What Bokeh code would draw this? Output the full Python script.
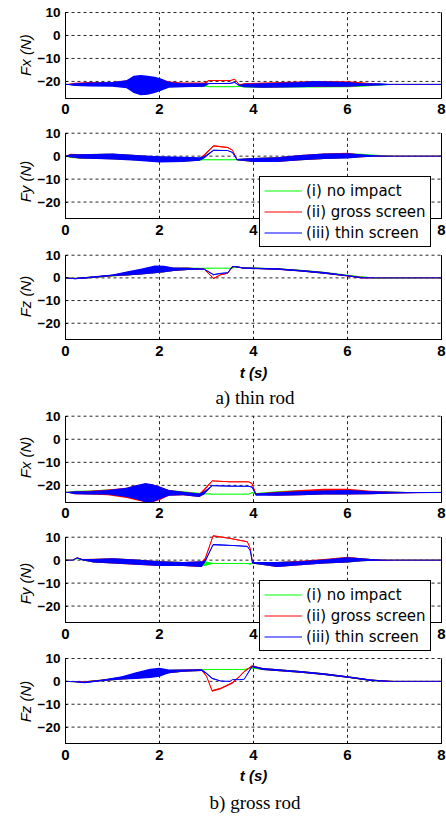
import math
from bokeh.plotting import figure
from bokeh.models import Range1d, FixedTicker, Legend, LegendItem
from bokeh.core.properties import value
from bokeh.layouts import column
from bokeh.embed import file_html
from bokeh.resources import INLINE

TIME_TICKS = [0, 2, 4, 6, 8]
TIME_TICK_LABELS = ["0", "2", "4", "6", "8"]
FORCE_TICKS = [-20, -10, 0, 10]
T_MIN, T_MAX = 0, 8
Y_MIN, Y_MAX = -27.3, 10
SERIES_NAMES = ["(i) no impact", "(ii) gross screen", "(iii) thin screen"]
SERIES_COLORS = ["#00ff00", "#ff0000", "#0000ff"]
CAPTIONS = ["a) thin rod", "b) gross rod"]
Y_LABELS = ["Fx (N)", "Fy (N)", "Fz (N)"]
X_LABEL = "t (s)"

# ---------- a) thin rod : (low, high) envelope of each signal ----------
THIN_FX_T = [0, 0.2, 0.5, 1.0, 1.3, 1.45, 1.6, 1.75, 1.9, 2.05, 2.2, 2.5, 2.95, 3.05,
             3.5, 3.6, 3.7, 3.8, 4.2, 5.0, 5.3, 6.0, 6.3, 6.7, 7.0, 8.0]
THIN_FX_GREEN = [(-21.3, -21.3), (-21.8, -20.8), (-22.0, -20.6), (-22.0, -20.5), (-22.5, -20.0),
                 (-23.0, -19.8), (-23.5, -19.5), (-23.5, -19.5), (-23.0, -19.8), (-22.8, -20.2),
                 (-22.3, -20.5), (-22.3, -20.8), (-22.3, -21.0), (-22.4, -22.2), (-22.4, -22.2),
                 (-22.4, -22.2), (-22.3, -21.8), (-22.6, -21.0), (-22.8, -21.0), (-22.6, -20.5),
                 (-22.6, -20.4), (-22.5, -20.6), (-22.3, -20.8), (-21.8, -21.0), (-21.3, -21.3),
                 (-21.3, -21.3)]
THIN_FX_RED = [(-21.3, -21.3), (-21.8, -20.6), (-22.0, -20.3), (-22.0, -20.2), (-22.5, -19.5),
               (-24.5, -18.0), (-25.5, -17.5), (-25.0, -17.8), (-24.5, -18.3), (-23.5, -19.0),
               (-22.3, -20.0), (-22.3, -20.5), (-22.0, -20.5), (-19.8, -19.4), (-19.8, -19.5),
               (-19.2, -18.9), (-21.8, -21.2), (-22.4, -20.8), (-22.6, -20.5), (-22.4, -20.0),
               (-22.4, -19.8), (-22.3, -19.9), (-22.0, -20.4), (-21.5, -21.1), (-21.3, -21.3),
               (-21.3, -21.3)]
THIN_FX_BLUE = [(-21.3, -21.3), (-22.0, -20.8), (-22.2, -20.5), (-22.3, -20.3), (-23.0, -19.5),
                (-25.0, -17.5), (-26.0, -17.2), (-25.8, -17.5), (-25.0, -18.0), (-24.0, -18.8),
                (-22.8, -20.2), (-22.5, -20.8), (-22.3, -20.8), (-21.1, -20.8), (-21.0, -20.7),
                (-20.6, -20.3), (-22.0, -21.6), (-22.5, -21.0), (-22.8, -20.8), (-22.5, -20.3),
                (-22.3, -19.8), (-22.3, -20.3), (-22.0, -20.8), (-21.8, -20.8), (-21.3, -21.3),
                (-21.3, -21.3)]

THIN_FY_T = [0, 0.1, 0.3, 1.0, 1.5, 2.0, 2.5, 2.85, 2.95, 3.15, 3.45, 3.55, 3.65, 4.0, 4.5,
             5.0, 5.5, 6.0, 6.3, 6.6, 7.0, 8.0]
THIN_FY_GREEN = [(0, 0), (-0.8, 0.8), (-1.0, 0.8), (-1.3, 1.0), (-1.8, 0.5), (-2.3, -0.3),
                 (-2.3, -0.5), (-2.0, -0.8), (-1.7, -1.5), (-1.7, -1.5), (-1.7, -1.5),
                 (-1.7, -1.5), (-1.8, -1.2), (-2.3, -0.8), (-2.3, -0.5), (-1.8, 0.3),
                 (-1.2, 1.0), (-0.8, 1.3), (-0.5, 1.0), (-0.3, 0.6), (0, 0), (0, 0)]
THIN_FY_RED = [(0, 0), (-0.5, 1.0), (-1.0, 0.8), (-1.3, 1.0), (-1.8, 0.5), (-2.5, -0.3),
               (-2.3, -0.5), (-2.0, -0.8), (0.0, 0.8), (4.2, 4.8), (3.6, 4.0), (2.5, 2.8),
               (-1.8, -1.2), (-2.5, -0.8), (-2.5, -0.5), (-1.8, 0.5), (-1.2, 1.2), (-0.8, 1.5),
               (-0.5, 0.6), (-0.1, 0.2), (0, 0), (0, 0)]
THIN_FY_BLUE = [(0, 0), (-0.5, 0.8), (-1.0, 0.8), (-1.5, 1.2), (-2.0, 0.5), (-2.8, 0.0),
                (-2.5, -0.3), (-2.0, -0.5), (-1.0, 0.0), (2.3, 2.8), (2.3, 2.6), (1.5, 1.8),
                (-1.8, -1.2), (-2.5, -0.8), (-2.5, -0.5), (-1.8, 0.5), (-1.2, 1.2), (-1.0, 1.3),
                (-0.5, 0.8), (-0.2, 0.3), (0, 0), (0, 0)]

THIN_FZ_T = [0, 0.2, 0.5, 1.0, 1.3, 1.6, 1.9, 2.1, 2.3, 2.6, 2.95, 3.15, 3.3, 3.45, 3.55,
             3.6, 3.8, 4.5, 5.0, 5.5, 6.0, 6.3, 6.6, 8.0]
THIN_FZ_GREEN = [(0, 0), (-0.5, 0), (-0.2, 0.5), (0.6, 1.3), (1.0, 2.5), (1.5, 3.5), (2.0, 4.5),
                 (2.5, 4.8), (3.0, 4.5), (3.5, 4.6), (4.1, 4.4), (4.2, 4.4), (4.2, 4.4),
                 (4.2, 4.4), (4.2, 4.4), (4.6, 5.0), (4.1, 4.7), (3.7, 4.3), (2.9, 3.6),
                 (1.9, 2.7), (0.8, 1.4), (0.2, 0.6), (-0.3, 0.2), (0, 0)]
THIN_FZ_RED = [(0, 0), (-0.6, 0), (-0.2, 0.5), (0.7, 1.4), (1.0, 2.6), (1.5, 3.8), (2.0, 5.0),
               (2.5, 5.0), (3.0, 4.5), (3.5, 4.6), (3.7, 4.0), (-0.5, 0.0), (1.2, 1.6),
               (1.8, 2.2), (4.5, 5.2), (4.8, 5.2), (4.0, 4.6), (3.6, 4.2), (2.8, 3.5),
               (1.8, 2.6), (0.6, 1.2), (-0.3, 0.5), (0, 0), (0, 0)]
THIN_FZ_BLUE = [(0, 0), (-0.6, 0), (-0.2, 0.5), (0.8, 1.5), (1.0, 2.8), (1.5, 4.0), (2.0, 5.5),
                (2.5, 5.3), (3.0, 4.6), (3.5, 4.5), (3.7, 4.0), (1.2, 1.6), (1.8, 2.2),
                (2.1, 2.4), (4.7, 5.2), (4.8, 5.2), (4.0, 4.6), (3.6, 4.2), (2.8, 3.5),
                (1.8, 2.6), (0.7, 1.2), (-0.2, 0.3), (0, 0), (0, 0)]

# ---------- b) gross rod ----------
GROSS_FX_T = [0, 0.2, 0.5, 0.9, 1.3, 1.5, 1.7, 1.85, 2.0, 2.2, 2.5, 2.85, 2.95, 3.12, 3.5,
              3.9, 3.97, 4.05, 4.5, 5.0, 5.5, 6.0, 6.5, 7.0, 7.5, 8.0]
GROSS_FX_GREEN = [(-23, -23), (-23.6, -22.3), (-23.8, -22.2), (-23.8, -21.8), (-24.5, -21.5),
                  (-25, -21), (-25.5, -20.5), (-25.5, -20.5), (-25, -21), (-24, -22),
                  (-24, -22.5), (-24.5, -23.2), (-23.8, -23.4), (-23.9, -23.7), (-23.9, -23.7),
                  (-23.9, -23.7), (-23.3, -23.0), (-24.0, -23.3), (-24.3, -22.5), (-24.2, -22.0),
                  (-23.8, -22.0), (-23.8, -22.2), (-23.5, -22.5), (-23.3, -22.8), (-23.2, -23.0),
                  (-23.1, -23.0)]
GROSS_FX_RED = [(-23, -23), (-23.8, -22.5), (-24, -22.3), (-24.3, -21.8), (-25.5, -21),
                (-26.5, -20), (-27.3, -19.5), (-27.3, -19.5), (-26.5, -20.5), (-24.5, -22),
                (-24.3, -22.8), (-25, -23.5), (-22.5, -21.5), (-18.2, -17.9), (-18.6, -18.3),
                (-18.6, -18.3), (-19.5, -19.0), (-24.0, -23.5), (-24.5, -22.8), (-24.3, -22.0),
                (-24, -21.5), (-24, -21.5), (-23.8, -22.3), (-23.5, -22.8), (-23.3, -23),
                (-23.1, -23.0)]
GROSS_FX_BLUE = [(-23, -23), (-23.8, -22.5), (-24, -22.5), (-24, -22), (-25, -21), (-26, -20),
                 (-27.3, -19), (-27.3, -19.5), (-26, -20.5), (-24.5, -22), (-24.3, -22.8),
                 (-25, -23.5), (-24, -22.5), (-20.3, -20.0), (-20.5, -20.2), (-20.5, -20.3),
                 (-21, -20.5), (-24.5, -23.5), (-24.5, -23), (-24.3, -22.5), (-24, -22.2),
                 (-24, -22), (-23.8, -22.5), (-23.5, -22.8), (-23.3, -23), (-23.2, -23.0)]

GROSS_FY_T = [0, 0.15, 0.25, 0.35, 0.6, 1.0, 1.5, 2.0, 2.5, 2.9, 2.97, 3.14, 3.5, 3.87, 3.93,
              3.98, 4.5, 5.0, 5.5, 6.0, 6.3, 6.7, 7.0, 8.0]
GROSS_FY_GREEN = [(0, 0), (0, 0), (0.5, 1.0), (0, 0.5), (-1, 0.5), (-1.3, 0.8), (-1.8, 0.3),
                  (-2.3, -0.5), (-2.3, -0.8), (-2.5, -0.8), (-2.5, -0.5), (-1.6, -1.2),
                  (-1.6, -1.3), (-1.6, -1.3), (-2.0, -1.2), (-1.6, -1.0), (-2.8, -0.8),
                  (-2.0, -0.5), (-1.5, 0.3), (-1.0, 1.3), (-0.5, 0.8), (-0.2, 0.2), (0, 0), (0, 0)]
GROSS_FY_RED = [(0, 0), (0, 0), (0.8, 1.2), (0, 0.5), (-1, 0.6), (-1.5, 0.8), (-2, 0.3),
                (-2.5, -0.5), (-2.5, -0.8), (-3, -0.5), (0, 1), (10.3, 10.9), (9.3, 9.6),
                (7.8, 8.2), (5.0, 5.4), (-1.5, -0.8), (-3, -0.8), (-2.2, -0.3), (-1.5, 0.5),
                (-1, 1.5), (-0.5, 0.8), (-0.2, 0.2), (0, 0), (0, 0)]
GROSS_FY_BLUE = [(0, 0), (0, 0), (0.8, 1.2), (0, 0.5), (-1, 0.5), (-1.5, 0.8), (-2, 0.3),
                 (-2.5, -0.5), (-2.5, -0.8), (-3, -0.5), (-1, 0), (6.5, 7.0), (6.3, 6.6),
                 (5.8, 6.2), (4.0, 4.3), (-1.5, -0.8), (-3, -0.8), (-2.2, -0.5), (-1.5, 0.3),
                 (-1, 1.3), (-0.5, 0.8), (-0.2, 0.2), (0, 0), (0, 0)]

GROSS_FZ_T = [0, 0.2, 0.4, 0.8, 1.2, 1.5, 1.8, 2.0, 2.2, 2.5, 2.9, 3.0, 3.12, 3.3, 3.5, 3.55,
              3.7, 3.8, 3.97, 4.2, 5.0, 5.5, 6.0, 6.5, 6.9, 7.0, 8.0]
GROSS_FZ_GREEN = [(0, 0), (-0.3, 0), (-0.6, 0), (0.2, 0.8), (0.8, 2.0), (1.2, 3.2), (1.8, 4.2),
                  (2.5, 4.8), (3.5, 5.0), (4.2, 5.2), (4.6, 5.3), (5.1, 5.3), (5.1, 5.3),
                  (5.1, 5.3), (5.1, 5.3), (5.1, 5.3), (5.1, 5.3), (5.1, 5.3), (5.6, 6.1),
                  (5.0, 5.8), (3.8, 4.5), (2.8, 3.5), (1.6, 2.2), (0.2, 0.8), (-0.2, 0.3),
                  (0, 0), (0, 0)]
GROSS_FZ_RED = [(0, 0), (-0.3, 0), (-0.6, 0), (0.2, 0.8), (0.8, 2.0), (1.2, 3.5), (1.8, 4.5),
                (2.5, 5.0), (3.5, 5.0), (4.2, 5.2), (4.5, 5.3), (2.0, 2.5), (-4.5, -3.8),
                (-3.5, -2.8), (-1.5, -0.8), (-1.0, -0.3), (1.8, 2.3), (4.0, 4.5), (6.5, 7.0),
                (5.0, 5.8), (3.8, 4.5), (2.8, 3.5), (1.6, 2.2), (0.2, 0.8), (-0.2, 0.3),
                (0, 0), (0, 0)]
GROSS_FZ_BLUE = [(0, 0), (-0.3, 0), (-0.8, -0.2), (0.2, 0.8), (0.8, 2.2), (1, 4), (1.5, 5.5),
                 (2, 6), (3.5, 5.2), (4.2, 5.2), (4.5, 5.3), (3.2, 3.8), (1.0, 1.6), (0, 0.3),
                 (0, 0), (0.7, 0.8), (0.7, 0.8), (0.8, 1.0), (6.2, 6.8), (5.0, 5.8), (3.8, 4.5),
                 (2.8, 3.5), (1.6, 2.2), (0.2, 0.8), (-0.2, 0.2), (0, 0), (0, 0)]

SANS = "Liberation Sans"
SERIF = "Liberation Serif"
FIG_W = 446
X0_PX, X8_PX = 65, 441          # page x of t=0 and t=8
PX_T = (X8_PX - X0_PX) / (T_MAX - T_MIN)


def make_panel(t, series, ylabel, top, height, yt, yb, ylab_y, legend=False,
               xlabel_y=None, caption_y=None, caption=None):
    """Whole canvas is the frame; page pixel positions are mapped through the scales."""
    k = (Y_MAX - Y_MIN) / (yb - yt)

    def yd(py):
        return Y_MAX - (py - yt) * k

    def xd(px):
        return T_MIN + (px - X0_PX) / PX_T

    p = figure(width=FIG_W, height=height,
               x_range=Range1d(xd(0), xd(FIG_W)), y_range=Range1d(yd(top + height), yd(top)),
               output_backend="svg", toolbar_location=None, title=None, min_border=0,
               min_border_left=0, min_border_right=0, min_border_top=0, min_border_bottom=0)
    p.outline_line_color = None
    p.background_fill_color = "white"
    p.border_fill_color = "white"
    p.xgrid.visible = False
    p.ygrid.visible = False

    n_t, n_f = len(TIME_TICKS), len(FORCE_TICKS)
    p.segment(x0=TIME_TICKS, y0=[Y_MIN] * n_t, x1=TIME_TICKS, y1=[Y_MAX] * n_t,
              line_color="black", line_dash="3 3", line_width=1, line_alpha=0.85)
    p.segment(x0=[T_MIN] * n_f, y0=FORCE_TICKS, x1=[T_MAX] * n_f, y1=FORCE_TICKS,
              line_color="black", line_dash="3 3", line_width=1, line_alpha=0.85)

    renderers = []
    for pairs, color in zip(series, SERIES_COLORS):
        lo = [a for a, b in pairs]
        hi = [b for a, b in pairs]
        mid = [(a + b) / 2 for a, b in pairs]
        p.varea(x=t, y1=lo, y2=hi, fill_color=color, fill_alpha=1)
        r = p.line(x=t, y=mid, line_color=color, line_width=1)
        renderers.append(r)

    p.segment(x0=[T_MAX], y0=[Y_MIN], x1=[T_MAX], y1=[Y_MAX], line_color="black", line_width=1)

    xa = p.xaxis[0]
    ya = p.yaxis[0]
    xa.fixed_location = Y_MIN
    ya.fixed_location = T_MIN
    xa.bounds = (T_MIN, T_MAX)
    ya.bounds = (Y_MIN, Y_MAX)
    xa.ticker = FixedTicker(ticks=TIME_TICKS)
    ya.ticker = FixedTicker(ticks=FORCE_TICKS)
    for ax in (xa, ya):
        ax.axis_line_color = "black"
        ax.axis_line_width = 1
        ax.major_tick_line_color = "black"
        ax.major_tick_in = 2
        ax.major_tick_out = 0
        ax.minor_tick_line_color = None
        ax.major_label_text_font = SANS
        ax.major_label_text_font_style = "bold"
    xa.major_label_text_color = None
    ya.major_label_text_color = "black"
    ya.major_label_text_font_size = "13.5px"
    ya.major_label_standoff = 5

    # time tick labels under the axis line
    p.text(x=TIME_TICKS, y=[yd(yb + 10.7)] * n_t, text=TIME_TICK_LABELS, text_align="center",
           text_baseline="middle", text_font=value(SANS), text_font_size="15px",
           text_font_style="bold", text_color="black")
    # rotated y label
    p.text(x=[xd(25)], y=[yd(ylab_y)], text=[ylabel], angle=math.pi / 2, text_align="center",
           text_baseline="middle", text_font=value(SANS), text_font_size="15px",
           text_font_style="italic", text_color="black")
    if xlabel_y is not None:
        p.text(x=[xd(253)], y=[yd(xlabel_y)], text=[X_LABEL], text_align="center",
               text_baseline="middle", text_font=value(SANS), text_font_size="15px",
               text_font_style="bold italic", text_color="black")
    if caption is not None:
        p.text(x=[xd(254.5)], y=[yd(caption_y)], text=[caption], text_align="center",
               text_baseline="middle", text_font=value(SERIF), text_font_size="19px",
               text_color="black")

    if legend:
        items = [LegendItem(label=n, renderers=[r]) for n, r in zip(SERIES_NAMES, renderers)]
        lg = Legend(items=items, location=(259, 1), padding=4, spacing=2,
                    margin=0, label_height=19, glyph_height=19, glyph_width=38,
                    label_standoff=4, border_line_color="black", border_line_width=1,
                    border_line_alpha=1, background_fill_color="white",
                    background_fill_alpha=1, label_text_font="DejaVu Sans",
                    label_text_font_size="15px", label_text_color="black")
        p.add_layout(lg)
    return p


panels = [
    make_panel(THIN_FX_T, [THIN_FX_GREEN, THIN_FX_RED, THIN_FX_BLUE], Y_LABELS[0],
               0, 122, 12, 97.7, 54.6),
    make_panel(THIN_FY_T, [THIN_FY_GREEN, THIN_FY_RED, THIN_FY_BLUE], Y_LABELS[1],
               122, 126, 132.7, 218.3, 181, legend=True),
    make_panel(THIN_FZ_T, [THIN_FZ_GREEN, THIN_FZ_RED, THIN_FZ_BLUE], Y_LABELS[2],
               248, 160, 254.7, 339.3, 296, xlabel_y=372, caption_y=397, caption=CAPTIONS[0]),
    make_panel(GROSS_FX_T, [GROSS_FX_GREEN, GROSS_FX_RED, GROSS_FX_BLUE], Y_LABELS[0],
               408, 122, 415.7, 501.7, 457),
    make_panel(GROSS_FY_T, [GROSS_FY_GREEN, GROSS_FY_RED, GROSS_FY_BLUE], Y_LABELS[1],
               530, 122, 536.7, 622.3, 583, legend=True),
    make_panel(GROSS_FZ_T, [GROSS_FZ_GREEN, GROSS_FZ_RED, GROSS_FZ_BLUE], Y_LABELS[2],
               652, 163, 658, 743.3, 701, xlabel_y=775, caption_y=802, caption=CAPTIONS[1]),
]

layout = column(*panels, spacing=0)
open("out.html", "w").write(file_html(layout, INLINE))
